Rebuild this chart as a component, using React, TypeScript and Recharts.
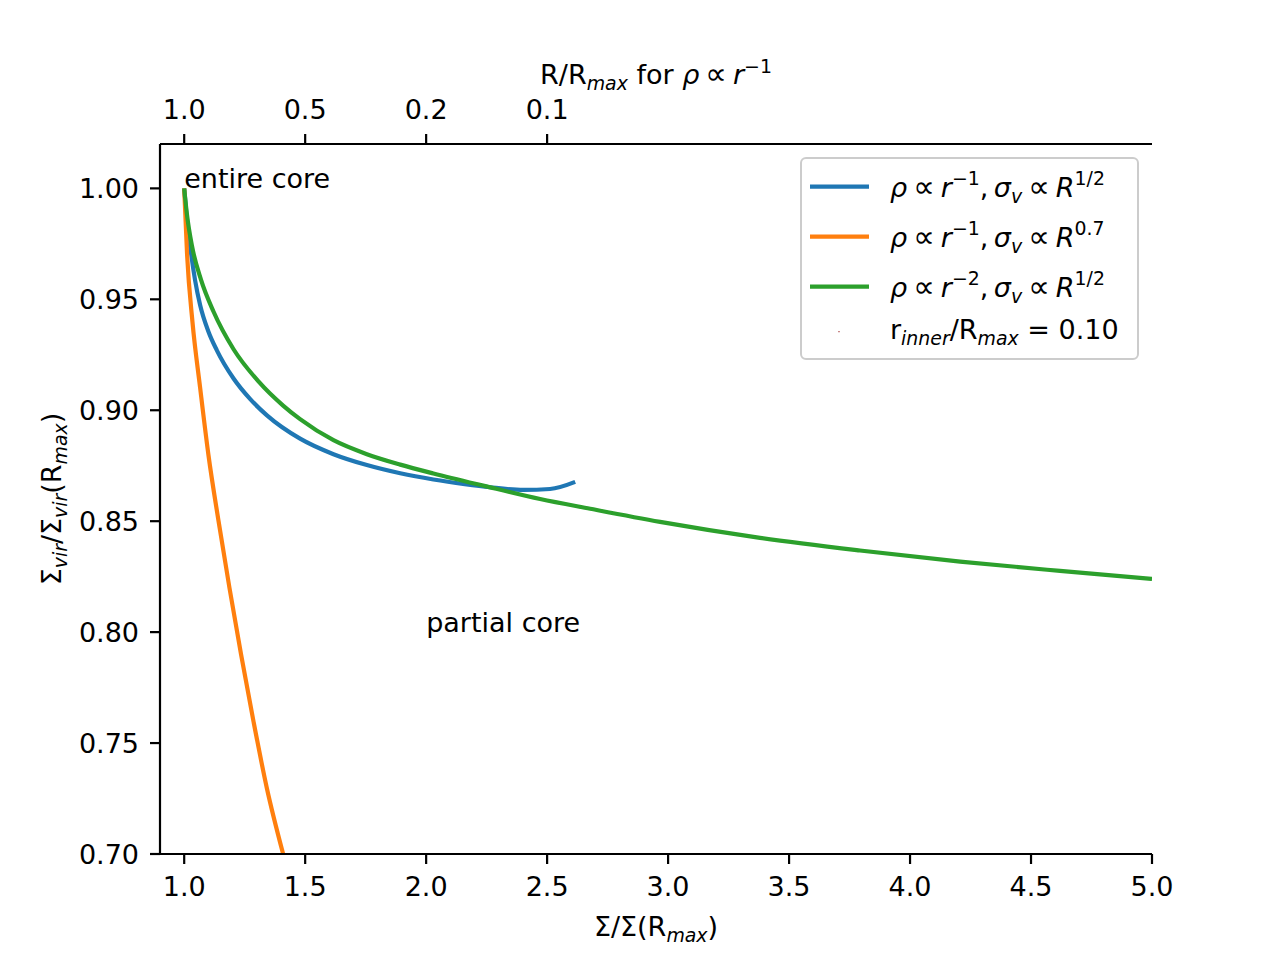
import React from 'react';
import { LineChart, Line, XAxis, YAxis, ReferenceDot } from 'recharts';

// ---- data ----
const blueX = [1.0, 1.008, 1.025, 1.045, 1.066, 1.1, 1.135, 1.204, 1.273, 1.342, 1.479, 1.617, 1.755, 1.893, 2.03, 2.16, 2.264, 2.402, 2.512, 2.616];
const blueY = [1.0, 0.99, 0.9736, 0.9586, 0.9473, 0.9355, 0.927, 0.9143, 0.905, 0.8977, 0.8872, 0.8802, 0.8753, 0.8716, 0.8688, 0.8667, 0.8653, 0.8641, 0.8645, 0.8677];

const orangeX = [1.0, 1.012, 1.034, 1.066, 1.1, 1.142, 1.187, 1.235, 1.286, 1.341, 1.409];
const orangeY = [1.0, 0.97, 0.94, 0.91, 0.88, 0.85, 0.82, 0.79, 0.76, 0.73, 0.7];

const greenX = [1.0, 1.011, 1.033, 1.069, 1.121, 1.204, 1.307, 1.41, 1.479, 1.617, 1.755, 1.893, 2.03, 2.24, 2.471, 2.678, 2.967, 3.38, 3.793, 4.207, 4.62, 5.0];
const greenY = [1.0, 0.9886, 0.9736, 0.959, 0.9445, 0.9275, 0.913, 0.902, 0.896, 0.8865, 0.8802, 0.8755, 0.8715, 0.8659, 0.86, 0.8556, 0.8497, 0.8425, 0.8368, 0.8318, 0.8276, 0.824];

const bottomTicks = [1.0, 1.5, 2.0, 2.5, 3.0, 3.5, 4.0, 4.5, 5.0];
const yTicks = [0.7, 0.75, 0.8, 0.85, 0.9, 0.95, 1.0];
const topTickPos = [1.0, 1.5, 2.0, 2.5];
const topTickLabels = ['1.0', '0.5', '0.2', '0.1'];

const xDomain: [number, number] = [0.9, 5.0];
const yDomain: [number, number] = [0.7, 1.02];

const C_BLUE = '#1f77b4';
const C_ORANGE = '#ff7f0e';
const C_GREEN = '#2ca02c';

const FONT = "'DejaVu Sans', sans-serif";
const FS = 27;
const LW = 4.2;
const SPINE = 2.2;

const toPts = (xs: number[], ys: number[]) => xs.map((x, i) => ({ x, y: ys[i] }));
const blueData = toPts(blueX, blueY);
const orangeData = toPts(orangeX, orangeY);
const greenData = toPts(greenX, greenY);

type Seg = { t: string; i?: boolean; s?: 'sup' | 'sub'; big?: boolean };

function segs(list: Seg[], fs: number) {
  let cur = 0;
  return list.map((sg, k) => {
    const target = sg.s === 'sup' ? -0.42 * fs : sg.s === 'sub' ? 0.24 * fs : 0;
    const dy = target - cur;
    cur = target;
    const size = sg.s ? fs * 0.7 : sg.big ? fs * 1.12 : fs;
    return (
      <tspan key={k} dy={dy} fontStyle={sg.i ? 'italic' : 'normal'} fontSize={size}>
        {sg.t}
      </tspan>
    );
  });
}

const PROP: Seg = { t: '\u2009∝\u2009', big: true };

const legendEntries: { color: string | null; label: Seg[] }[] = [
  {
    color: C_BLUE,
    label: [
      { t: 'ρ', i: true }, PROP, { t: 'r', i: true }, { t: '−1', s: 'sup' }, { t: ',\u2009' },
      { t: 'σ', i: true }, { t: 'v', i: true, s: 'sub' }, PROP, { t: 'R', i: true }, { t: '1/2', s: 'sup' },
    ],
  },
  {
    color: C_ORANGE,
    label: [
      { t: 'ρ', i: true }, PROP, { t: 'r', i: true }, { t: '−1', s: 'sup' }, { t: ',\u2009' },
      { t: 'σ', i: true }, { t: 'v', i: true, s: 'sub' }, PROP, { t: 'R', i: true }, { t: '0.7', s: 'sup' },
    ],
  },
  {
    color: C_GREEN,
    label: [
      { t: 'ρ', i: true }, PROP, { t: 'r', i: true }, { t: '−2', s: 'sup' }, { t: ',\u2009' },
      { t: 'σ', i: true }, { t: 'v', i: true, s: 'sub' }, PROP, { t: 'R', i: true }, { t: '1/2', s: 'sup' },
    ],
  },
  {
    color: null,
    label: [
      { t: 'r' }, { t: 'inner', i: true, s: 'sub' }, { t: '/R' }, { t: 'max', i: true, s: 'sub' }, { t: ' = 0.10' },
    ],
  },
];
const legendBaselines = [188.7, 238.7, 288.7, 331];
const legendLineY = [178.7, 228.7, 278.7, 323.7];

const tickStyle = { fill: '#000', fontSize: FS, fontFamily: FONT };

export default function App() {
  const W = 1264;
  const H = 944;
  return (
    <div style={{ position: 'relative', width: W, height: H, fontFamily: FONT, background: '#fff' }}>
      <LineChart width={W} height={H} margin={{ top: 76, right: 120, bottom: 38, left: 0 }}>
        <XAxis
          xAxisId="bottom"
          type="number"
          dataKey="x"
          domain={xDomain}
          allowDataOverflow
          ticks={bottomTicks}
          interval={0}
          tickFormatter={(v: number) => v.toFixed(1)}
          height={60}
          tickSize={10}
          tickMargin={13}
          tick={tickStyle}
          axisLine={{ stroke: '#000', strokeWidth: SPINE }}
          tickLine={{ stroke: '#000', strokeWidth: SPINE }}
        />
        <XAxis
          xAxisId="top"
          orientation="top"
          type="number"
          dataKey="x"
          domain={xDomain}
          allowDataOverflow
          ticks={topTickPos}
          interval={0}
          tickFormatter={(v: number) => topTickLabels[topTickPos.indexOf(v)] ?? ''}
          height={60}
          tickSize={10}
          tickMargin={15}
          tick={tickStyle}
          axisLine={{ stroke: '#000', strokeWidth: SPINE }}
          tickLine={{ stroke: '#000', strokeWidth: SPINE }}
        />
        <YAxis
          yAxisId="left"
          type="number"
          domain={yDomain}
          allowDataOverflow
          ticks={yTicks}
          interval={0}
          tickFormatter={(v: number) => v.toFixed(2)}
          width={152}
          tickSize={10}
          tickMargin={11}
          tick={tickStyle}
          axisLine={{ stroke: '#000', strokeWidth: SPINE }}
          tickLine={{ stroke: '#000', strokeWidth: SPINE }}
        />
        <YAxis
          yAxisId="right"
          orientation="right"
          type="number"
          domain={yDomain}
          allowDataOverflow
          width={0}
          tick={false}
          tickLine={false}
          axisLine={{ stroke: '#000', strokeWidth: SPINE }}
        />
        <Line
          xAxisId="bottom"
          yAxisId="left"
          data={blueData}
          dataKey="y"
          type="monotone"
          stroke={C_BLUE}
          strokeWidth={LW}
          dot={false}
          activeDot={false}
          isAnimationActive={false}
        />
        <Line
          xAxisId="bottom"
          yAxisId="left"
          data={orangeData}
          dataKey="y"
          type="monotone"
          stroke={C_ORANGE}
          strokeWidth={LW}
          dot={false}
          activeDot={false}
          isAnimationActive={false}
        />
        <Line
          xAxisId="bottom"
          yAxisId="left"
          data={greenData}
          dataKey="y"
          type="monotone"
          stroke={C_GREEN}
          strokeWidth={LW}
          dot={false}
          activeDot={false}
          isAnimationActive={false}
        />
        <ReferenceDot
          xAxisId="bottom"
          yAxisId="left"
          x={1.0}
          y={1.0}
          r={0}
          fill="none"
          stroke="none"
          label={(p: any) => (
            <text x={p.viewBox.x} y={p.viewBox.y} fontSize={FS} fontFamily={FONT} fill="#000">
              entire core
            </text>
          )}
        />
        <ReferenceDot
          xAxisId="bottom"
          yAxisId="left"
          x={2.0}
          y={0.8}
          r={0}
          fill="none"
          stroke="none"
          label={(p: any) => (
            <text x={p.viewBox.x} y={p.viewBox.y} fontSize={FS} fontFamily={FONT} fill="#000">
              partial core
            </text>
          )}
        />
      </LineChart>
      <svg
        width={W}
        height={H}
        style={{ position: 'absolute', left: 0, top: 0, pointerEvents: 'none' }}
        fontFamily={FONT}
      >
        {/* top axis title */}
        <text x={648} y={76} textAnchor="middle" fontSize={FS} fill="#000" style={{ whiteSpace: 'pre' }}>
          {segs([
            { t: 'R/R' }, { t: 'max', i: true, s: 'sub' }, { t: ' for ' }, { t: 'ρ', i: true }, PROP,
            { t: 'r', i: true }, { t: '−1', s: 'sup' },
          ], FS)}
        </text>
        {/* bottom axis title */}
        <text x={648} y={928} textAnchor="middle" fontSize={FS} fill="#000" style={{ whiteSpace: 'pre' }}>
          {segs([{ t: 'Σ/Σ(R' }, { t: 'max', i: true, s: 'sub' }, { t: ')' }], FS)}
        </text>
        {/* y axis title */}
        <text
          x={0}
          y={0}
          transform="translate(53,491) rotate(-90)"
          textAnchor="middle"
          fontSize={FS}
          fill="#000"
          style={{ whiteSpace: 'pre' }}
        >
          {segs([
            { t: 'Σ' }, { t: 'vir', i: true, s: 'sub' }, { t: '/Σ' }, { t: 'vir', i: true, s: 'sub' }, { t: '(R' },
            { t: 'max', i: true, s: 'sub' }, { t: ')' },
          ], FS)}
        </text>
        {/* legend */}
        <rect x={793} y={150} width={337} height={201} rx={5} ry={5} fill="#fff" fillOpacity={0.8} stroke="#cccccc" strokeWidth={2} />
        {legendEntries.map((e, k) => (
          <g key={k}>
            {e.color ? (
              <line x1={802} x2={861} y1={legendLineY[k]} y2={legendLineY[k]} stroke={e.color} strokeWidth={LW} />
            ) : (
              <circle cx={831} cy={legendLineY[k]} r={0.6} fill="#8b0000" />
            )}
            <text x={882} y={legendBaselines[k]} fontSize={FS} fill="#000" style={{ whiteSpace: 'pre' }}>
              {segs(e.label, FS)}
            </text>
          </g>
        ))}
      </svg>
    </div>
  );
}
